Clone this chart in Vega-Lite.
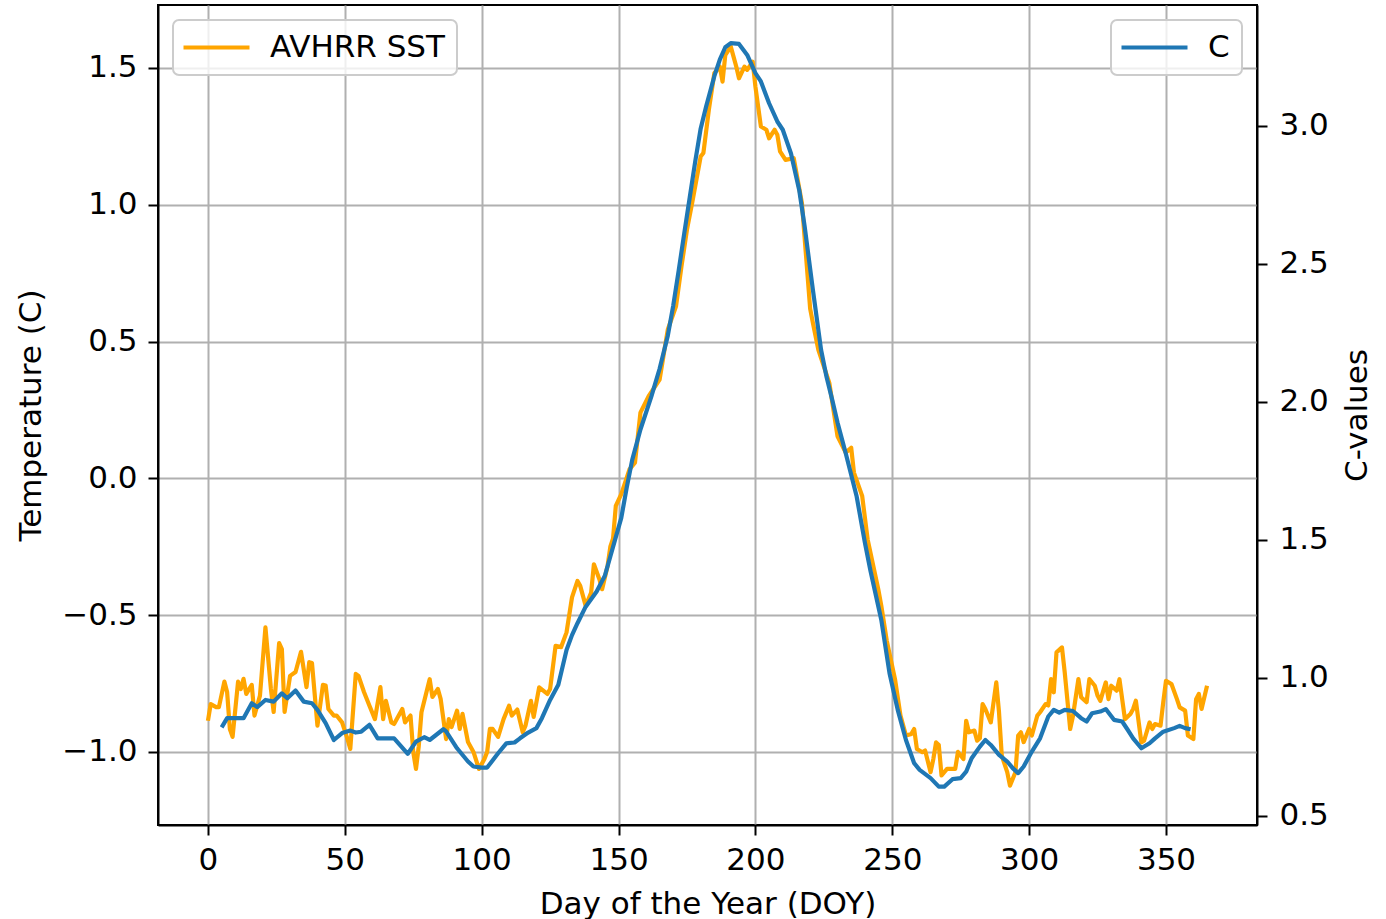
{
  "$schema": "https://vega.github.io/schema/vega-lite/v6.json",
  "width": 1099,
  "height": 820,
  "autosize": {"type": "none"},
  "padding": {"left": 158, "top": 5, "right": 129, "bottom": 94},
  "background": "white",
  "config": {
    "view": {"stroke": "black", "strokeWidth": 2},
    "font": "DejaVu Sans",
    "axis": {
      "domainColor": "black", "domainWidth": 2,
      "tickColor": "black", "tickWidth": 2, "tickSize": 10,
      "labelFont": "DejaVu Sans", "labelFontSize": 31, "labelColor": "black",
      "titleFont": "DejaVu Sans", "titleFontSize": 31, "titleFontWeight": "normal", "titleColor": "black",
      "gridColor": "#b0b0b0", "gridWidth": 2, "labelFlush": false
    },
    "legend": {
      "title": null,
      "labelFont": "DejaVu Sans", "labelFontSize": 31, "labelColor": "black", "labelLimit": 500,
      "fillColor": "rgba(255,255,255,0.8)", "strokeColor": "#cccccc", "strokeWidth": 2,
      "cornerRadius": 6, "padding": 12, "offset": 15,
      "symbolType": "M-3,0H3", "symbolSize": 484, "symbolStrokeWidth": 4.2,
      "symbolOffset": 16, "labelOffset": 38
    }
  },
  "datasets": {
    "sst": [
      {"day": 0, "temp": -0.886}, {"day": 1, "temp": -0.825}, {"day": 3, "temp": -0.836}, {"day": 4, "temp": -0.836},
      {"day": 6, "temp": -0.743}, {"day": 7, "temp": -0.781}, {"day": 8, "temp": -0.916}, {"day": 9, "temp": -0.945},
      {"day": 11, "temp": -0.743}, {"day": 12, "temp": -0.770}, {"day": 13, "temp": -0.733}, {"day": 14, "temp": -0.788},
      {"day": 16, "temp": -0.755}, {"day": 17, "temp": -0.867}, {"day": 19, "temp": -0.794}, {"day": 21, "temp": -0.545},
      {"day": 23, "temp": -0.770}, {"day": 24, "temp": -0.854}, {"day": 26, "temp": -0.602}, {"day": 27, "temp": -0.624},
      {"day": 28, "temp": -0.854}, {"day": 30, "temp": -0.722}, {"day": 32, "temp": -0.708}, {"day": 34, "temp": -0.634},
      {"day": 36, "temp": -0.763}, {"day": 37, "temp": -0.672}, {"day": 38, "temp": -0.675}, {"day": 40, "temp": -0.904},
      {"day": 42, "temp": -0.755}, {"day": 43, "temp": -0.757}, {"day": 44, "temp": -0.843}, {"day": 46, "temp": -0.867},
      {"day": 47, "temp": -0.867}, {"day": 49, "temp": -0.892}, {"day": 51, "temp": -0.953}, {"day": 52, "temp": -0.989},
      {"day": 54, "temp": -0.715}, {"day": 55, "temp": -0.722}, {"day": 57, "temp": -0.781}, {"day": 59, "temp": -0.831},
      {"day": 61, "temp": -0.880}, {"day": 63, "temp": -0.763}, {"day": 64, "temp": -0.880}, {"day": 65, "temp": -0.813},
      {"day": 67, "temp": -0.892}, {"day": 68, "temp": -0.898}, {"day": 71, "temp": -0.843}, {"day": 72, "temp": -0.892},
      {"day": 74, "temp": -0.867}, {"day": 75, "temp": -1.000}, {"day": 76, "temp": -1.062}, {"day": 77, "temp": -0.980},
      {"day": 78, "temp": -0.855}, {"day": 81, "temp": -0.734}, {"day": 82, "temp": -0.799}, {"day": 84, "temp": -0.770},
      {"day": 85, "temp": -0.806}, {"day": 87, "temp": -0.953}, {"day": 88, "temp": -0.880}, {"day": 89, "temp": -0.909},
      {"day": 91, "temp": -0.849}, {"day": 92, "temp": -0.916}, {"day": 93, "temp": -0.861}, {"day": 95, "temp": -0.964},
      {"day": 97, "temp": -1.000}, {"day": 99, "temp": -1.062}, {"day": 101, "temp": -1.026}, {"day": 102, "temp": -1.000},
      {"day": 103, "temp": -0.916}, {"day": 104, "temp": -0.916}, {"day": 106, "temp": -0.945}, {"day": 108, "temp": -0.880},
      {"day": 110, "temp": -0.831}, {"day": 111, "temp": -0.867}, {"day": 113, "temp": -0.845}, {"day": 115, "temp": -0.928},
      {"day": 116, "temp": -0.904}, {"day": 118, "temp": -0.813}, {"day": 119, "temp": -0.872}, {"day": 121, "temp": -0.764},
      {"day": 124, "temp": -0.788}, {"day": 125, "temp": -0.770}, {"day": 127, "temp": -0.612}, {"day": 129, "temp": -0.617},
      {"day": 131, "temp": -0.563}, {"day": 133, "temp": -0.435}, {"day": 135, "temp": -0.375}, {"day": 136, "temp": -0.393},
      {"day": 138, "temp": -0.466}, {"day": 140, "temp": -0.417}, {"day": 141, "temp": -0.314}, {"day": 143, "temp": -0.369},
      {"day": 144, "temp": -0.405}, {"day": 146, "temp": -0.320}, {"day": 147, "temp": -0.250}, {"day": 148, "temp": -0.220},
      {"day": 149, "temp": -0.101}, {"day": 151, "temp": -0.058}, {"day": 154, "temp": 0.033}, {"day": 156, "temp": 0.057},
      {"day": 158, "temp": 0.240}, {"day": 161, "temp": 0.300}, {"day": 165, "temp": 0.361}, {"day": 166, "temp": 0.422},
      {"day": 168, "temp": 0.544}, {"day": 171, "temp": 0.629}, {"day": 173, "temp": 0.775}, {"day": 175, "temp": 0.909},
      {"day": 177, "temp": 1.012}, {"day": 180, "temp": 1.176}, {"day": 181, "temp": 1.189}, {"day": 183, "temp": 1.347},
      {"day": 185, "temp": 1.481}, {"day": 187, "temp": 1.505}, {"day": 188, "temp": 1.450}, {"day": 189, "temp": 1.547},
      {"day": 191, "temp": 1.578}, {"day": 193, "temp": 1.505}, {"day": 194, "temp": 1.462}, {"day": 196, "temp": 1.505},
      {"day": 197, "temp": 1.493}, {"day": 199, "temp": 1.523}, {"day": 200, "temp": 1.432}, {"day": 202, "temp": 1.286},
      {"day": 204, "temp": 1.274}, {"day": 205, "temp": 1.243}, {"day": 207, "temp": 1.274}, {"day": 208, "temp": 1.256},
      {"day": 209, "temp": 1.195}, {"day": 211, "temp": 1.164}, {"day": 214, "temp": 1.170}, {"day": 217, "temp": 1.006},
      {"day": 220, "temp": 0.620}, {"day": 221, "temp": 0.568}, {"day": 223, "temp": 0.470}, {"day": 227, "temp": 0.349}, {"day": 230, "temp": 0.154},
      {"day": 233, "temp": 0.094}, {"day": 235, "temp": 0.112}, {"day": 236, "temp": 0.021}, {"day": 239, "temp": -0.064},
      {"day": 241, "temp": -0.223}, {"day": 245, "temp": -0.411}, {"day": 246, "temp": -0.466}, {"day": 248, "temp": -0.594},
      {"day": 251, "temp": -0.734}, {"day": 253, "temp": -0.867}, {"day": 255, "temp": -0.940}, {"day": 257, "temp": -0.934},
      {"day": 258, "temp": -0.916}, {"day": 259, "temp": -0.989}, {"day": 261, "temp": -1.001}, {"day": 262, "temp": -0.995},
      {"day": 264, "temp": -1.074}, {"day": 265, "temp": -1.026}, {"day": 266, "temp": -0.965}, {"day": 267, "temp": -0.975},
      {"day": 268, "temp": -1.086}, {"day": 270, "temp": -1.062}, {"day": 273, "temp": -1.062}, {"day": 274, "temp": -1.000},
      {"day": 276, "temp": -1.026}, {"day": 277, "temp": -0.886}, {"day": 278, "temp": -0.928}, {"day": 280, "temp": -0.922},
      {"day": 281, "temp": -0.959}, {"day": 282, "temp": -0.950}, {"day": 283, "temp": -0.825}, {"day": 284, "temp": -0.843},
      {"day": 286, "temp": -0.892}, {"day": 288, "temp": -0.746}, {"day": 289, "temp": -0.855}, {"day": 290, "temp": -1.013},
      {"day": 292, "temp": -1.074}, {"day": 293, "temp": -1.123}, {"day": 295, "temp": -1.074}, {"day": 296, "temp": -0.940},
      {"day": 297, "temp": -0.928}, {"day": 298, "temp": -0.964}, {"day": 300, "temp": -0.916}, {"day": 301, "temp": -0.940},
      {"day": 303, "temp": -0.867}, {"day": 304, "temp": -0.855}, {"day": 306, "temp": -0.825}, {"day": 307, "temp": -0.830},
      {"day": 308, "temp": -0.734}, {"day": 309, "temp": -0.782}, {"day": 310, "temp": -0.636}, {"day": 312, "temp": -0.618},
      {"day": 313, "temp": -0.709}, {"day": 315, "temp": -0.916}, {"day": 316, "temp": -0.870}, {"day": 318, "temp": -0.734},
      {"day": 319, "temp": -0.800}, {"day": 321, "temp": -0.818}, {"day": 322, "temp": -0.734}, {"day": 324, "temp": -0.758},
      {"day": 325, "temp": -0.794}, {"day": 326, "temp": -0.813}, {"day": 328, "temp": -0.746}, {"day": 329, "temp": -0.807},
      {"day": 330, "temp": -0.758}, {"day": 332, "temp": -0.776}, {"day": 333, "temp": -0.734}, {"day": 335, "temp": -0.880},
      {"day": 337, "temp": -0.861}, {"day": 338, "temp": -0.843}, {"day": 339, "temp": -0.813}, {"day": 341, "temp": -0.965},
      {"day": 342, "temp": -0.959}, {"day": 344, "temp": -0.892}, {"day": 345, "temp": -0.916}, {"day": 346, "temp": -0.898},
      {"day": 348, "temp": -0.904}, {"day": 349, "temp": -0.818}, {"day": 350, "temp": -0.740}, {"day": 352, "temp": -0.752},
      {"day": 354, "temp": -0.807}, {"day": 355, "temp": -0.837}, {"day": 357, "temp": -0.849}, {"day": 358, "temp": -0.940},
      {"day": 360, "temp": -0.953}, {"day": 361, "temp": -0.807}, {"day": 362, "temp": -0.788}, {"day": 363, "temp": -0.843},
      {"day": 365, "temp": -0.758}
    ],
    "cvals": [
      {"day": 5, "c": 0.821}, {"day": 7, "c": 0.854}, {"day": 13, "c": 0.854}, {"day": 16, "c": 0.908},
      {"day": 18, "c": 0.894}, {"day": 21, "c": 0.920}, {"day": 24, "c": 0.914}, {"day": 27, "c": 0.944},
      {"day": 29, "c": 0.926}, {"day": 32, "c": 0.954}, {"day": 35, "c": 0.914}, {"day": 38, "c": 0.908},
      {"day": 40, "c": 0.884}, {"day": 43, "c": 0.836}, {"day": 46, "c": 0.775}, {"day": 49, "c": 0.800},
      {"day": 52, "c": 0.809}, {"day": 54, "c": 0.802}, {"day": 56, "c": 0.805}, {"day": 59, "c": 0.830},
      {"day": 62, "c": 0.781}, {"day": 68, "c": 0.781}, {"day": 73, "c": 0.725}, {"day": 76, "c": 0.769},
      {"day": 79, "c": 0.785}, {"day": 81, "c": 0.775}, {"day": 86, "c": 0.814}, {"day": 87, "c": 0.806},
      {"day": 91, "c": 0.745}, {"day": 95, "c": 0.697}, {"day": 97, "c": 0.679}, {"day": 100, "c": 0.675},
      {"day": 102, "c": 0.675}, {"day": 106, "c": 0.727}, {"day": 109, "c": 0.763}, {"day": 112, "c": 0.766},
      {"day": 114, "c": 0.781}, {"day": 117, "c": 0.802}, {"day": 120, "c": 0.818}, {"day": 122, "c": 0.854},
      {"day": 125, "c": 0.920}, {"day": 128, "c": 0.975}, {"day": 131, "c": 1.101}, {"day": 133, "c": 1.155}, {"day": 135, "c": 1.198},
      {"day": 138, "c": 1.258}, {"day": 142, "c": 1.313}, {"day": 145, "c": 1.370}, {"day": 147, "c": 1.440},
      {"day": 149, "c": 1.510}, {"day": 151, "c": 1.580}, {"day": 153, "c": 1.690}, {"day": 155, "c": 1.790}, {"day": 158, "c": 1.900}, {"day": 162, "c": 2.020},
      {"day": 165, "c": 2.120}, {"day": 168, "c": 2.240}, {"day": 170, "c": 2.350}, {"day": 172, "c": 2.478}, {"day": 174, "c": 2.610}, {"day": 176, "c": 2.740},
      {"day": 178, "c": 2.870}, {"day": 180, "c": 2.990}, {"day": 182, "c": 3.070}, {"day": 185, "c": 3.180}, {"day": 187, "c": 3.240}, {"day": 189, "c": 3.285}, {"day": 191, "c": 3.300},
      {"day": 194, "c": 3.297}, {"day": 197, "c": 3.257}, {"day": 200, "c": 3.191}, {"day": 202, "c": 3.161},
      {"day": 205, "c": 3.082}, {"day": 208, "c": 3.016}, {"day": 210, "c": 2.986}, {"day": 213, "c": 2.900},
      {"day": 216, "c": 2.768}, {"day": 218, "c": 2.635}, {"day": 221, "c": 2.406}, {"day": 224, "c": 2.188},
      {"day": 226, "c": 2.090}, {"day": 228, "c": 2.010}, {"day": 230, "c": 1.925}, {"day": 233, "c": 1.814}, {"day": 237, "c": 1.657}, {"day": 240, "c": 1.490},
      {"day": 242, "c": 1.390}, {"day": 246, "c": 1.210}, {"day": 249, "c": 1.017}, {"day": 252, "c": 0.884},
      {"day": 255, "c": 0.775}, {"day": 258, "c": 0.691}, {"day": 260, "c": 0.667}, {"day": 264, "c": 0.637},
      {"day": 267, "c": 0.606}, {"day": 269, "c": 0.606}, {"day": 272, "c": 0.633}, {"day": 275, "c": 0.637},
      {"day": 277, "c": 0.660}, {"day": 279, "c": 0.709}, {"day": 282, "c": 0.751}, {"day": 284, "c": 0.775},
      {"day": 286, "c": 0.757}, {"day": 289, "c": 0.721}, {"day": 292, "c": 0.697}, {"day": 294, "c": 0.673},
      {"day": 296, "c": 0.655}, {"day": 298, "c": 0.679}, {"day": 301, "c": 0.733}, {"day": 304, "c": 0.781},
      {"day": 307, "c": 0.860}, {"day": 309, "c": 0.884}, {"day": 311, "c": 0.874}, {"day": 313, "c": 0.884},
      {"day": 316, "c": 0.880}, {"day": 319, "c": 0.854}, {"day": 321, "c": 0.842}, {"day": 323, "c": 0.872},
      {"day": 326, "c": 0.878}, {"day": 328, "c": 0.887}, {"day": 331, "c": 0.848}, {"day": 334, "c": 0.842},
      {"day": 336, "c": 0.812}, {"day": 338, "c": 0.781}, {"day": 341, "c": 0.745}, {"day": 344, "c": 0.763},
      {"day": 346, "c": 0.781}, {"day": 349, "c": 0.805}, {"day": 353, "c": 0.818}, {"day": 355, "c": 0.826},
      {"day": 357, "c": 0.818}, {"day": 359, "c": 0.814}
    ]
  },
  "layer": [
    {
      "data": {"name": "sst"},
      "mark": {"type": "line", "strokeWidth": 4.2, "strokeJoin": "round", "clip": true},
      "encoding": {
        "x": {"field": "day", "type": "quantitative",
          "scale": {"domain": [-18.25, 383.25], "nice": false, "zero": false},
          "axis": {"values": [0, 50, 100, 150, 200, 250, 300, 350], "format": "d", "grid": true,
            "title": "Day of the Year (DOY)", "labelPadding": 10, "titlePadding": 14}},
        "y": {"field": "temp", "type": "quantitative",
          "scale": {"domain": [-1.267, 1.730], "nice": false, "zero": false},
          "axis": {"orient": "left", "values": [-1, -0.5, 0, 0.5, 1, 1.5], "format": ".1f", "grid": true,
            "title": "Temperature (C)", "labelPadding": 11, "titlePadding": 14}},
        "color": {"datum": "AVHRR SST", "type": "nominal",
          "scale": {"domain": ["AVHRR SST"], "range": ["#ffa500"]},
          "legend": {"orient": "top-left"}}
      }
    },
    {
      "data": {"name": "cvals"},
      "mark": {"type": "line", "strokeWidth": 4.2, "strokeJoin": "round", "clip": true},
      "encoding": {
        "x": {"field": "day", "type": "quantitative"},
        "y": {"field": "c", "type": "quantitative",
          "scale": {"domain": [0.467, 3.438], "nice": false, "zero": false},
          "axis": {"orient": "right", "values": [0.5, 1, 1.5, 2, 2.5, 3], "format": ".1f", "grid": false,
            "title": "C-values", "titleAngle": 270, "titleBaseline": "top", "labelPadding": 12, "titlePadding": 14}},
        "color": {"datum": "C", "type": "nominal",
          "scale": {"domain": ["C"], "range": ["#1f77b4"]},
          "legend": {"orient": "top-right"}}
      }
    }
  ],
  "resolve": {"scale": {"y": "independent", "color": "independent"}, "legend": {"color": "independent"}, "axis": {"y": "independent"}}
}
